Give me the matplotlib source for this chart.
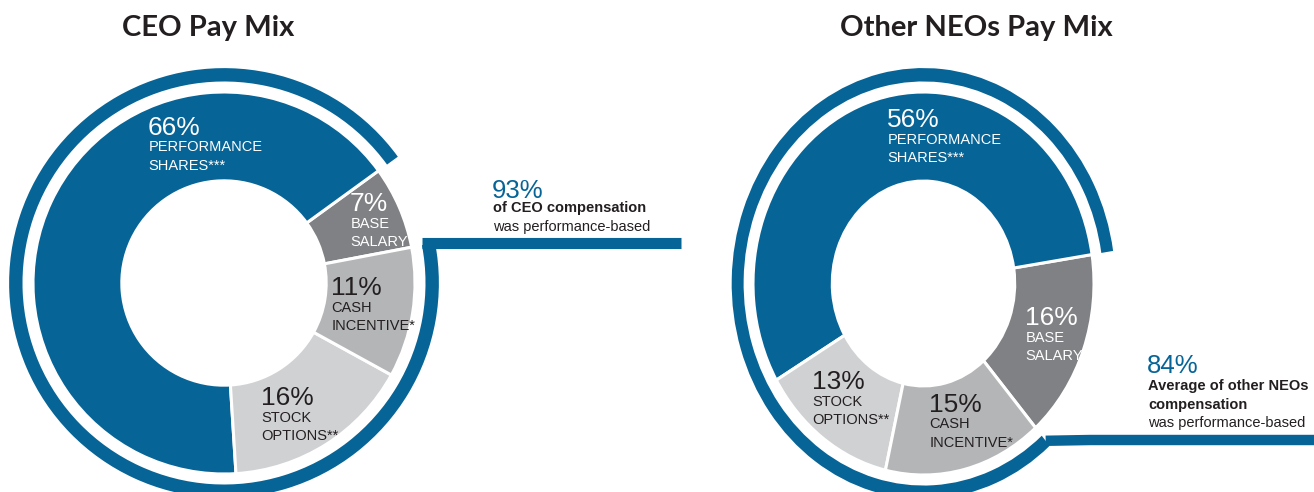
import matplotlib.pyplot as plt
import numpy as np

W, H = 1314, 492

# pay mix data (percent)
ceo_labels = ['BASE\nSALARY', 'PERFORMANCE\nSHARES***', 'STOCK\nOPTIONS**', 'CASH\nINCENTIVE*']
ceo_values = [7, 66, 16, 11]
neo_labels = ['BASE\nSALARY', 'PERFORMANCE\nSHARES***', 'STOCK\nOPTIONS**', 'CASH\nINCENTIVE*']
neo_values = [16, 56, 13, 15]
ceo_perf_based = 93
neo_perf_based = 84

BLUE = '#066497'
colors = ['#808184', BLUE, '#d0d1d3', '#b4b5b7']
label_colors = ['white', 'white', '#231f20', '#231f20']

fig = plt.figure(figsize=(W / 100, H / 100), dpi=100)


def px(x, y):
    return x / W, 1 - y / H


def donut(ax, values, start, ring_share):
    ax.pie(values, colors=colors, startangle=start, radius=1.0, counterclock=True,
           wedgeprops=dict(width=0.465, edgecolor='white', linewidth=2.2))
    # outer ring over the performance-based part
    ring_start = start + 360 * values[0] / 100
    ax.pie([ring_share, 100 - ring_share], colors=[BLUE, 'none'], startangle=ring_start,
           radius=1.125, wedgeprops=dict(width=0.07, linewidth=0))
    ax.set_aspect('auto')
    return ring_start + 360 * ring_share / 100


# left donut: center (224, 283) px, radius 191 px
ax1 = fig.add_axes([0, 0, 700 / W, 1])
end1 = donut(ax1, ceo_values, 10.8, ceo_perf_based)
ax1.set_xlim(-224 / 191, (700 - 224) / 191)
ax1.set_ylim((283 - 492) / 191, 283 / 191)
ax1.axis('off')
y_bar = (283 - 242.5) / 191
ax1.plot([1.055 * np.cos(np.radians(end1)), (681 - 224) / 191], [y_bar, y_bar],
         color=BLUE, lw=8, solid_capstyle='butt', clip_on=False)

# right donut: center (923.5, 283.5) px, squeezed horizontally
ax2 = fig.add_axes([700 / W, 0, 614 / W, 1])
end2 = donut(ax2, neo_values, -48.9, neo_perf_based)
ax2.set_xlim((700 - 923.5) / 170.5, (1314 - 923.5) / 170.5)
ax2.set_ylim((283.5 - 492) / 191.5, 283.5 / 191.5)
ax2.axis('off')
ex, ey = 1.09 * np.cos(np.radians(end2)), 1.09 * np.sin(np.radians(end2))
ax2.plot([ex, (1090 - 923.5) / 170.5, (1320 - 923.5) / 170.5],
         [ey, (283.5 - 440) / 191.5, (283.5 - 440) / 191.5],
         color=BLUE, lw=7.5, solid_capstyle='butt', solid_joinstyle='miter', clip_on=False)

# titles
fig.text(*px(208, 36), 'CEO Pay Mix', family='Lato', weight='bold', fontsize=21,
         ha='center', va='baseline', color='#231f20')
fig.text(*px(976, 36), 'Other NEOs Pay Mix', family='Lato', weight='bold', fontsize=21,
         ha='center', va='baseline', color='#231f20')


def seg_label(x, y, value, name, color):
    fig.text(*px(x, y), f'{value}%', family='Liberation Sans', fontsize=19,
             color=color, va='baseline')
    for i, line in enumerate(name.split('\n')):
        fig.text(*px(x + 0.5, y + 16.5 + 18.5 * i), line, family='Liberation Sans',
                 fontsize=10.5, color=color, va='baseline')


# label anchors (left x, baseline of percentage) in pixels
ceo_pos = [(350, 211), (148, 135), (261, 405), (331, 295)]
neo_pos = [(1025, 325), (887, 127), (812, 389), (929, 412)]
for (x, y), v, n, c in zip(ceo_pos, ceo_values, ceo_labels, label_colors):
    seg_label(x, y, v, n, c)
for (x, y), v, n, c in zip(neo_pos, neo_values, neo_labels, label_colors):
    seg_label(x, y, v, n, c)

# callouts
fig.text(*px(492, 198), f'{ceo_perf_based}%', family='Liberation Sans', fontsize=18.5,
         color=BLUE, va='baseline')
fig.text(*px(493, 212), 'of CEO compensation', family='Liberation Sans', weight='bold',
         fontsize=10.5, color='#231f20', va='baseline')
fig.text(*px(493, 231), 'was performance-based', family='Liberation Sans',
         fontsize=10.5, color='#231f20', va='baseline')

fig.text(*px(1147, 373), f'{neo_perf_based}%', family='Liberation Sans', fontsize=18.5,
         color=BLUE, va='baseline')
fig.text(*px(1148, 390), 'Average of other NEOs', family='Liberation Sans', weight='bold',
         fontsize=10.5, color='#231f20', va='baseline')
fig.text(*px(1148, 409), 'compensation', family='Liberation Sans', weight='bold',
         fontsize=10.5, color='#231f20', va='baseline')
fig.text(*px(1148, 427), 'was performance-based', family='Liberation Sans',
         fontsize=10.5, color='#231f20', va='baseline')

fig.savefig('out.png', dpi=100)
